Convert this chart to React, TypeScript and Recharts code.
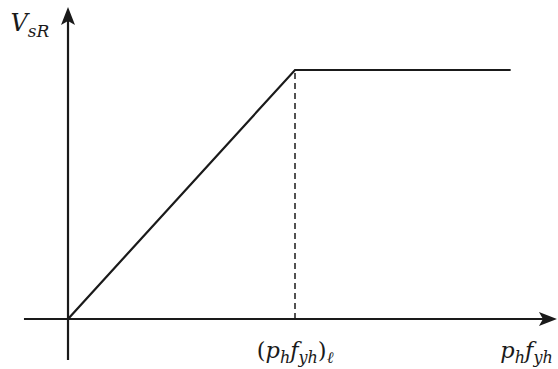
import React from "react";
import { LineChart, Line, XAxis, YAxis, ReferenceLine, ReferenceDot } from "recharts";

// Curve: linear rise up to the limit, then a plateau
const curveX = [0, 1, 1.95];
const curveY = [0, 1, 1];

// Axis extents (data units)
const xAxisFrom = -0.194;
const xAxisTo = 2.154;
const yAxisFrom = -0.165;
const yAxisTo = 1.253;

// Plot domain
const xDomain = [-0.2996, 2.1586];
const yDomain = [-0.2008, 1.2811];

// Label anchors (data units) and texts
const limitX = 1;
const labelY = -0.157;
const rightLabelX = 2.02;
const yLabelX = -0.168;
const yLabelY = 1.157;

const yLabelMain = "V";
const yLabelSub = "sR";
const xLabelMain = ["p", "f"];
const xLabelSubs = ["h", "yh"];
const limitSub = "ℓ";

const data = curveX.map((x, i) => ({ x, y: curveY[i] }));

const INK = "#1a1a1a";
const FONT = "DejaVu Serif";
const MAIN = 22.5;
const SUB = 16;
const SHIFT = 5;

const ArrowLine = (props: any) => {
  const { x1, y1, x2, y2 } = props;
  const dx = x2 - x1;
  const dy = y2 - y1;
  const len = Math.sqrt(dx * dx + dy * dy) || 1;
  const ux = dx / len;
  const uy = dy / len;
  const nx = -uy;
  const ny = ux;
  const L = 18;
  const W = 7;
  const notch = 4;
  const bx = x2 - ux * L;
  const by = y2 - uy * L;
  const mx = x2 - ux * (L - notch);
  const my = y2 - uy * (L - notch);
  const pts = `${x2},${y2} ${bx + nx * W},${by + ny * W} ${mx},${my} ${bx - nx * W},${by - ny * W}`;
  return (
    <g>
      <line x1={x1} y1={y1} x2={mx} y2={my} stroke={INK} strokeWidth={2.2} />
      <polygon points={pts} fill={INK} />
    </g>
  );
};

const ProductText = ({ x, y, withLimit }: any) => (
  <text x={x} y={y} textAnchor="middle" fontFamily={FONT} fontStyle="italic" fontSize={MAIN} fill={INK}>
    {withLimit ? <tspan fontStyle="normal">(</tspan> : null}
    <tspan>{xLabelMain[0]}</tspan>
    <tspan fontSize={SUB} dy={SHIFT}>{xLabelSubs[0]}</tspan>
    <tspan dy={-SHIFT}>{xLabelMain[1]}</tspan>
    <tspan fontSize={SUB} dy={SHIFT}>{xLabelSubs[1]}</tspan>
    {withLimit ? (
      <>
        <tspan dy={-SHIFT} fontStyle="normal">)</tspan>
        <tspan fontSize={SUB} dy={SHIFT}>{limitSub}</tspan>
      </>
    ) : null}
  </text>
);

const YText = ({ x, y }: any) => (
  <text x={x} y={y} textAnchor="middle" fontFamily={FONT} fontStyle="italic" fontSize={24} fill={INK}>
    <tspan>{yLabelMain}</tspan>
    <tspan fontSize={17} dy={6}>{yLabelSub}</tspan>
  </text>
);

export default function App() {
  return (
    <div style={{ position: "absolute", left: 0, top: 0, width: 558, height: 369, background: "#fff" }}>
      <LineChart width={558} height={369} data={data} margin={{ top: 0, right: 0, bottom: 0, left: 0 }}>
        <XAxis type="number" dataKey="x" domain={xDomain} hide allowDataOverflow />
        <YAxis type="number" domain={yDomain} hide allowDataOverflow />
        <ReferenceLine
          segment={[{ x: xAxisFrom, y: 0 }, { x: xAxisTo, y: 0 }]}
          ifOverflow="visible"
          shape={ArrowLine}
        />
        <ReferenceLine
          segment={[{ x: 0, y: yAxisFrom }, { x: 0, y: yAxisTo }]}
          ifOverflow="visible"
          shape={ArrowLine}
        />
        <ReferenceLine
          segment={[{ x: limitX, y: 0 }, { x: limitX, y: 1 }]}
          ifOverflow="visible"
          stroke={INK}
          strokeWidth={1.5}
          strokeDasharray="6 4"
        />
        <Line
          type="linear"
          dataKey="y"
          stroke={INK}
          strokeWidth={2.2}
          dot={false}
          activeDot={false}
          isAnimationActive={false}
        />
        <ReferenceDot
          x={limitX}
          y={labelY}
          r={0}
          ifOverflow="visible"
          shape={(p: any) => <ProductText x={p.cx} y={p.cy} withLimit />}
        />
        <ReferenceDot
          x={rightLabelX}
          y={labelY}
          r={0}
          ifOverflow="visible"
          shape={(p: any) => <ProductText x={p.cx} y={p.cy} withLimit={false} />}
        />
        <ReferenceDot
          x={yLabelX}
          y={yLabelY}
          r={0}
          ifOverflow="visible"
          shape={(p: any) => <YText x={p.cx} y={p.cy} />}
        />
      </LineChart>
    </div>
  );
}
